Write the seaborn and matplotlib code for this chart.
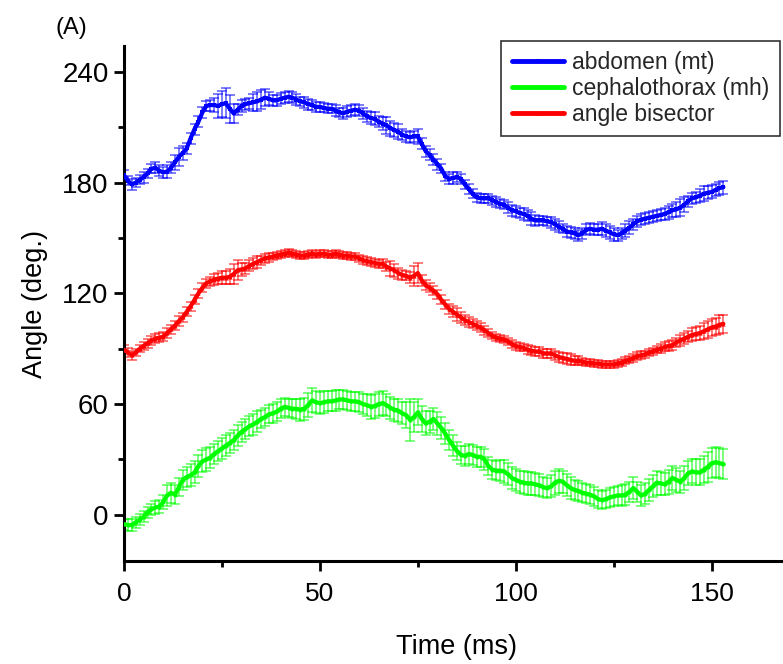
import matplotlib
matplotlib.use("Agg")
import numpy as np
import pandas as pd
import seaborn as sns
import matplotlib.pyplot as plt
from matplotlib.ticker import MultipleLocator

# ---------------- data ----------------
time_ms = list(range(154))

abdomen = [184, 181, 179, 180, 181.5, 183, 185, 187.5, 188, 186.5,
           185.5, 186, 188, 191, 194, 196, 198.5, 204, 209, 213,
           218, 221.5, 222, 222, 221.5, 222.5, 223, 220, 217.5, 219.5,
           221.5, 222.5, 223, 223.5, 224, 225, 226, 225.5, 224.5, 224.5,
           225.5, 226, 226.5, 226, 225, 224, 223.5, 222.5, 222, 221,
           221, 220.5, 220, 220, 219, 218, 217.5, 218.5, 219, 219.5,
           219, 217.5, 216, 215, 214.5, 213, 212, 211, 209.5, 208.5,
           207.5, 206, 205, 204.5, 205, 205, 201, 197, 195, 192.5,
           190, 187.5, 183.5, 182, 182.5, 183, 182, 179, 176.5, 174,
           172, 171.5, 171.5, 171.5, 170.5, 169.5, 168.5, 168, 166.5, 165,
           164.5, 163.5, 163, 162, 160.5, 159.5, 159.5, 159.5, 159, 158.5,
           157.5, 156, 155, 153.5, 153, 152.5, 151.5, 152.5, 154.5, 155,
           154.5, 154.5, 155, 154, 153, 152, 151.5, 152.5, 154, 155.5,
           157.5, 159, 160, 160.5, 161, 161.5, 162, 162.5, 163, 164,
           165, 165.5, 166.5, 168, 170, 171.5, 172, 173, 174, 174.5,
           175, 176, 177, 177.5]
abdomen_err = [3, 2.5, 3, 2.5, 2.5, 3, 2.5, 2.5, 3, 3,
               3, 3.5, 3, 4, 5, 4, 3, 3, 3, 3,
               3, 2.5, 3, 4, 6.5, 7, 8, 7.5, 5, 3,
               3, 3, 3, 4.5, 5, 5, 4.5, 3.5, 3, 3,
               3, 3, 3, 3, 3, 2.5, 3, 3, 2.5, 2.5,
               2.5, 2.5, 2.5, 2.5, 3, 2.5, 3, 3, 3, 3,
               3, 3, 3, 3, 3.5, 3, 3.5, 4.5, 4, 4,
               4, 3, 3, 3, 3, 4, 3, 3, 3, 3,
               3, 2.5, 2.5, 2.5, 3, 2.5, 2.5, 2.5, 2.5, 2.5,
               2.5, 2.5, 2.5, 2.5, 2.5, 2.5, 2.5, 2.5, 3, 3,
               3, 2.5, 3, 3, 3.5, 3, 2.5, 2.5, 2.5, 3,
               3, 3, 2.5, 3, 3, 3, 3, 3, 3, 3,
               3, 3, 3.5, 3.5, 3.5, 3.5, 3, 3, 3.5, 3.5,
               3, 3, 3, 3, 3, 3, 3, 3, 3, 3.5,
               3.5, 4, 4.5, 4, 3, 3, 3, 3.5, 4, 3.5,
               3.5, 3.5, 3.5, 3.5]

cephalothorax = [-5, -5.5, -5.5, -4, -2.5, -1, 1.5, 3, 4, 4.5,
                 7, 10.5, 12, 11, 15, 19, 20.5, 21.5, 23, 26.5,
                 29, 30, 31, 33, 34.5, 36, 37.5, 39, 40.5, 43,
                 45, 46.5, 48, 49, 50.5, 52, 53, 54.5, 55, 56,
                 57.5, 58.5, 58, 57.5, 57.5, 57, 57.5, 59.5, 62, 61,
                 60.5, 61, 61.5, 61.5, 62, 62.5, 62.5, 62, 61.5, 61.5,
                 61, 60, 59.5, 58.5, 59, 60, 60.5, 59.5, 58, 57,
                 56.5, 55, 54, 51.5, 53, 55.5, 52, 49.5, 50.5, 52,
                 49.5, 47, 44, 40.5, 37.5, 34.5, 32.5, 32, 33, 32.5,
                 31.5, 31.5, 30, 26.5, 24.5, 24, 24, 23.5, 22, 20,
                 19, 18, 17.5, 17, 17, 16.5, 16, 15, 14.5, 15.5,
                 17.5, 18.5, 18, 16, 14.5, 13.5, 13, 12, 11.5, 11,
                 10, 8.5, 8, 8.5, 9.5, 10, 10.5, 10.5, 11, 12.5,
                 14.5, 12.5, 10.5, 11.5, 13.5, 15.5, 17.5, 17, 16.5, 18,
                 20, 19, 18, 20, 22.5, 23.5, 23, 23, 24.5, 26,
                 28, 28.5, 28, 27.5]
cephalothorax_err = [3, 3, 3, 3, 3, 3, 3, 3, 3.5, 3.5,
                     4, 5.5, 5.5, 5, 5, 5.5, 5.5, 6, 6, 6,
                     6, 6, 5.5, 5.5, 5.5, 5.5, 5.5, 5.5, 5.5, 5.5,
                     5.5, 5.5, 5.5, 5.5, 5.5, 5, 5, 5, 5, 5,
                     5, 5, 5, 5, 5.5, 6, 6, 6.5, 6.5, 6,
                     6, 6, 5.5, 5.5, 5.5, 5, 5, 5, 5, 5,
                     5.5, 5.5, 6, 6.5, 6.5, 6.5, 6.5, 6, 6, 6,
                     6, 6, 7, 11.5, 8, 7, 7, 6.5, 6, 6,
                     6, 6, 5.5, 5.5, 5.5, 5, 5, 5.5, 5.5, 5.5,
                     5.5, 5.5, 5.5, 5, 5, 5, 5.5, 6, 6, 6,
                     6, 6, 6, 6, 6, 6, 6, 5.5, 5.5, 6,
                     6.5, 6.5, 6, 6, 6, 5.5, 5.5, 5, 5, 5,
                     5, 5, 5, 5, 5, 5, 5, 5.5, 5.5, 5.5,
                     6, 5.5, 5.5, 5.5, 6, 6, 6.5, 6, 6, 6.5,
                     6.5, 6.5, 6, 6.5, 6.5, 6.5, 7, 7, 7.5, 8,
                     8, 8, 8, 8]

bisector = [89.5, 88, 86.5, 88, 90, 91.5, 93, 94.5, 95.5, 96,
            96.5, 98.5, 100.5, 102.5, 105, 107, 110, 113, 116.5, 120,
            123, 125.5, 126.5, 127.5, 128, 128.5, 128.5, 129, 130.5, 132.5,
            133, 133.5, 135, 136, 137, 138, 139, 139.5, 140, 140.5,
            141, 141.5, 142, 141.5, 141, 140.5, 140.5, 141, 141.5, 141,
            141.5, 141.5, 141, 141, 141.5, 141, 140.5, 140.5, 140, 140,
            139, 138, 137.5, 137, 136.5, 136, 136, 134.5, 133.5, 132.5,
            131, 130, 129.5, 128.5, 129.5, 131, 127, 124.5, 123, 121.5,
            119.5, 116.5, 114, 111.5, 110, 108.5, 107, 105.5, 104.5, 103.5,
            102.5, 101.5, 100, 98.5, 97, 96, 95.5, 95, 94, 92.5,
            91.5, 91, 90.5, 89.5, 89, 88.5, 88.5, 87.5, 87.5, 87.5,
            86.5, 85.5, 85, 84.5, 84, 83.5, 83.5, 83, 82.5, 82.5,
            82, 82, 81.5, 81.5, 81.5, 81.5, 82, 82.5, 83.5, 84,
            85, 86, 86.5, 87, 88, 88.5, 89.5, 90, 91, 91.5,
            92, 93.5, 94.5, 95.5, 96.5, 97.5, 98, 98.5, 99.5, 100.5,
            101.5, 102, 103, 103.5]
bisector_err = [2.5, 2.5, 2.5, 2, 2, 2, 2.5, 2.5, 2.5, 2.5,
                2.5, 2.5, 2.5, 2.5, 2.5, 2.5, 2.5, 2.5, 2.5, 2.5,
                2.5, 2.5, 2.5, 3, 3, 3.5, 3.5, 4, 5.5, 5.5,
                3.5, 3, 3, 3, 3, 2.5, 2.5, 2.5, 2, 2,
                2, 2, 2, 2, 2, 2, 2, 2, 2, 2,
                2, 2, 2, 2, 2, 2, 2, 2, 2, 2,
                2, 2, 2, 2, 2, 2, 2.5, 2.5, 4, 3.5,
                3, 2.5, 2.5, 3, 5.5, 5.5, 3, 2.5, 2.5, 2.5,
                2.5, 2.5, 2.5, 2.5, 3, 3.5, 3, 2.5, 2.5, 2.5,
                2.5, 2.5, 2.5, 2, 2, 2, 2, 2, 2, 2,
                2, 2, 2, 2.5, 2.5, 2.5, 2.5, 2.5, 2.5, 2.5,
                2.5, 2.5, 2.5, 3, 3, 2.5, 2.5, 2, 2, 2,
                2, 2, 2, 2, 2, 2, 2, 2, 2, 2,
                2, 2, 2, 2, 2, 2, 2, 2.5, 2.5, 2.5,
                2.5, 2.5, 3, 3, 3, 3.5, 3.5, 4, 4.5, 4.5,
                4.5, 4.5, 5, 5]

series_names = ["abdomen (mt)", "cephalothorax (mh)", "angle bisector"]
series_colors = ["#0000FF", "#00FF00", "#FF0000"]
series_markers = ["s", "o", "^"]

x_ticks = [0, 50, 100, 150]
y_ticks = [0, 60, 120, 180, 240]

# ---------------- figure ----------------
sns.set_theme(style="ticks")
plt.rcParams["font.family"] = ["Liberation Sans", "DejaVu Sans"]

W, H = 783, 664
fig = plt.figure(figsize=(W / 100, H / 100), dpi=100)
ax = fig.add_axes([124 / W, 103 / H, 666 / W, 515 / H])

values = [abdomen, cephalothorax, bisector]
errors = [abdomen_err, cephalothorax_err, bisector_err]

for name, vals, errs, col, mk in zip(series_names, values, errors,
                                     series_colors, series_markers):
    df = pd.DataFrame({"time": time_ms, "angle": vals, "err": errs})
    ax.errorbar(df["time"], df["angle"], yerr=df["err"], fmt="none",
                ecolor=col, elinewidth=1.1, capsize=3.5, capthick=1.1,
                alpha=0.65, zorder=2)
    sns.lineplot(data=df, x="time", y="angle", ax=ax, color=col,
                 linewidth=3.0, marker=mk, markersize=3,
                 markeredgewidth=0, label=name, zorder=3)

ax.set_xlim(0, 170)
ax.set_ylim(-25, 254)
ax.set_xticks(x_ticks)
ax.set_yticks(y_ticks)
ax.xaxis.set_minor_locator(MultipleLocator(25))
ax.yaxis.set_minor_locator(MultipleLocator(30))

for s in ["top", "right"]:
    ax.spines[s].set_visible(False)
for s in ["left", "bottom"]:
    ax.spines[s].set_linewidth(2.2)
    ax.spines[s].set_color("black")

ax.tick_params(axis="both", which="major", direction="out", length=7,
               width=2, color="black", labelcolor="black")
ax.tick_params(axis="x", which="major", labelsize=19, pad=8)
ax.tick_params(axis="y", which="major", labelsize=20, pad=4)
ax.tick_params(axis="both", which="minor", direction="out", length=4,
               width=2, color="black")

ax.set_xlabel("Time (ms)", fontsize=19.5, color="black", labelpad=20)
ax.set_ylabel("Angle (deg.)", fontsize=19.5, color="black", labelpad=10)
ax.grid(False)

leg = ax.legend(loc="upper right", bbox_to_anchor=(780 / W, 1 - 41 / H),
                bbox_transform=fig.transFigure, fontsize=16.5,
                frameon=True, fancybox=False, edgecolor="black",
                handlelength=2.3, handletextpad=0.35, borderpad=0.45,
                labelspacing=0.12, borderaxespad=0)
leg.get_frame().set_linewidth(1.2)
for line in leg.get_lines():
    line.set_linewidth(3.5)

fig.text(55 / W, 1 - 28 / H, "(A)", fontsize=17, va="center", ha="left",
         color="black")

fig.savefig("out.png", dpi=100)
